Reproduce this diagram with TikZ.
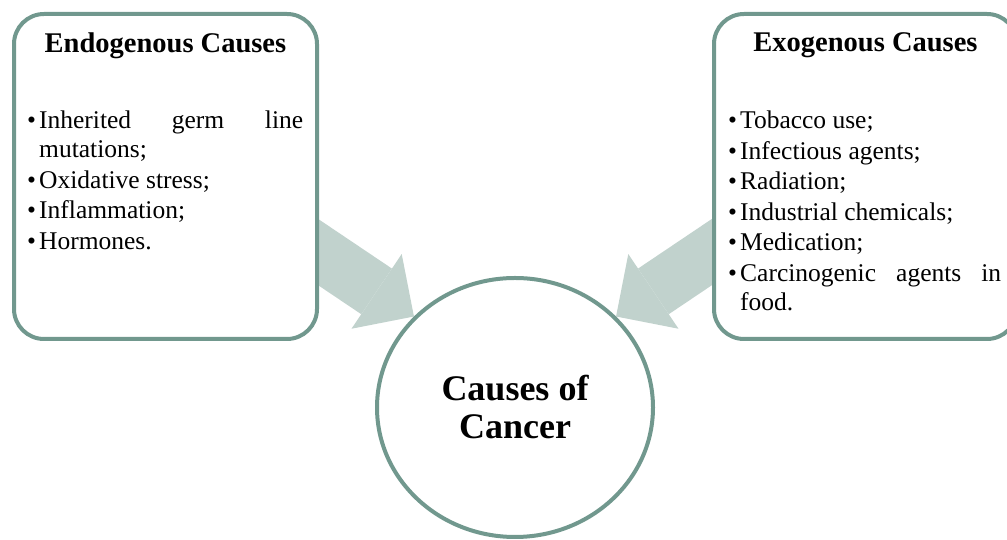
\documentclass[tikz,border=0pt]{standalone}
\usepackage{fontspec}
\setmainfont{Liberation Serif}
\usetikzlibrary{positioning,shapes.geometric,arrows.meta,backgrounds}

\definecolor{framegreen}{RGB}{113,152,142}
\definecolor{arrowgrey}{RGB}{193,210,205}

\newcommand\causeitem[1]{\noindent\hangindent=12pt\hangafter=1\makebox[12pt][l]{\textbullet}#1\par}

\begin{document}
\begin{tikzpicture}[x=1pt,y=1pt]
    \tikzstyle{causebox}=[draw=framegreen,line width=4pt,rounded corners=30pt,fill=white,minimum width=303pt,minimum height=325pt,outer sep=0pt]
    \tikzstyle{boxhead}=[inner sep=0pt,font=\fontsize{28.5pt}{32pt}\selectfont\bfseries]
    \tikzstyle{causelist}=[inner sep=0pt,align=justify,font=\fontsize{25.5pt}{29pt}\selectfont,
        execute at begin node={\setlength\parskip{1.5pt}\hyphenpenalty=10000\exhyphenpenalty=10000}]
    \tikzstyle{hub}=[ellipse,draw=framegreen,line width=4pt,fill=white,minimum width=276pt,minimum height=259pt,align=center,font=\fontsize{36pt}{38pt}\selectfont\bfseries]
    \tikzstyle{feed}=[line width=55pt,draw=arrowgrey,-{Triangle[length=45pt,width=90pt,line width=0pt]}]
    \useasboundingbox (0,0) rectangle (1007,540);

    \node[causebox] (endo) at (165.5,363.5) {};
    \node[causebox] (exo) at (865.5,363.5) {};
    \node[hub] (cancer) at (515,132.5) {Causes of\\Cancer};

    \node[boxhead,below=18.5pt of endo.north] (endo-head) {Endogenous Causes};
    \node[boxhead,below=18.5pt of exo.north] (exo-head) {Exogenous Causes};

    \node[causelist,text width=276pt,below right=97pt and 13pt of endo.north west] (endo-list) {%
        \causeitem{Inherited germ line mutations;}
        \causeitem{Oxidative stress;}
        \causeitem{Inflammation;}
        \causeitem{Hormones.}};
    \node[causelist,text width=273pt,below right=97pt and 14pt of exo.north west] (exo-list) {%
        \causeitem{Tobacco use;}
        \causeitem{Infectious agents;}
        \causeitem{Radiation;}
        \causeitem{Industrial chemicals;}
        \causeitem{Medication;}
        \causeitem{Carcinogenic agents in food.}};

    \coordinate (endo-out) at (260,327);
    \coordinate (exo-out) at (770,327);
    \begin{scope}[on background layer]
        \foreach \src/\ang in {endo-out/138, exo-out/42}
            \draw[feed] (\src) -- (cancer.\ang);
    \end{scope}
\end{tikzpicture}
\end{document}
